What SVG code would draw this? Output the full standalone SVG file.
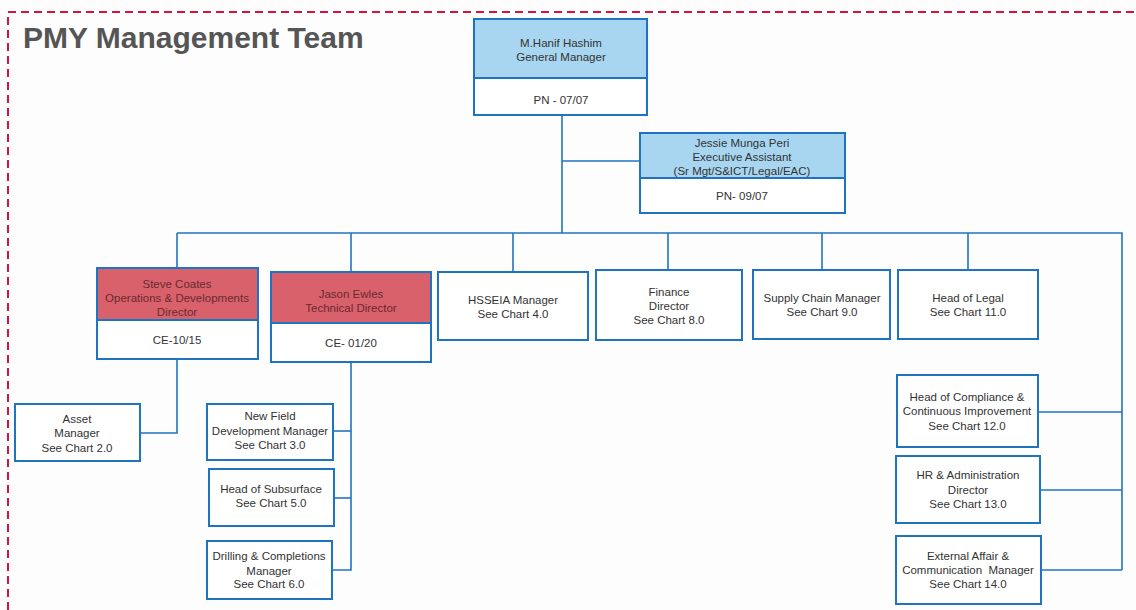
<svg xmlns="http://www.w3.org/2000/svg" width="1136" height="610" viewBox="0 0 1136 610">
<style>
.box{fill:#ffffff;stroke:#1f74c2;stroke-width:2}
.blue{fill:#a8d6f0;stroke:#1f74c2;stroke-width:2}
.red{fill:#d9616c;stroke:#1f74c2;stroke-width:2}
text{font-family:"Liberation Sans",Arial,sans-serif;font-size:11.5px;fill:#333;text-anchor:middle}
.red-t{fill:#6a2a2e}
.con{fill:none;stroke:#1f74c2;stroke-width:1.6}
</style>
<rect width="1136" height="610" fill="#fdfdfd"/>
<path d="M8,610 V12 H1136" fill="none" stroke="#d4163c" stroke-width="2" stroke-dasharray="8,5"/>
<text x="23" y="48" style="font-size:30px;font-weight:bold;fill:#555;text-anchor:start">PMY Management Team</text>
<g id="connectors">
<path class="con" d="M562,115 V233"/>
<path class="con" d="M562,161 H640"/>
<path class="con" d="M177,233 H1122 V570"/>
<path class="con" d="M177,233 V268"/>
<path class="con" d="M351,233 V272"/>
<path class="con" d="M513,233 V272"/>
<path class="con" d="M668,233 V270"/>
<path class="con" d="M822,233 V270"/>
<path class="con" d="M968,233 V270"/>
<path class="con" d="M177,359 V433 H140"/>
<path class="con" d="M351,362 V570 H332"/>
<path class="con" d="M333,431 H351"/>
<path class="con" d="M334,498 H351"/>
<path class="con" d="M1038,412 H1122"/>
<path class="con" d="M1040,490 H1122"/>
<path class="con" d="M1041,570 H1122"/>
</g>
<g id="gm">
<rect class="box" x="474" y="19" width="173" height="96"/>
<rect class="blue" x="474" y="19" width="173" height="59"/>
<text x="561" y="47">M.Hanif Hashim</text>
<text x="561" y="61">General Manager</text>
<text x="561" y="104">PN - 07/07</text>
</g>
<g id="ea">
<rect class="box" x="640" y="133" width="205" height="80"/>
<rect class="blue" x="640" y="133" width="205" height="45"/>
<text x="742" y="147">Jessie Munga Peri</text>
<text x="742" y="161">Executive Assistant</text>
<text x="742" y="175">(Sr Mgt/S&amp;ICT/Legal/EAC)</text>
<text x="742" y="200">PN- 09/07</text>
</g>
<g id="steve">
<rect class="box" x="97" y="268" width="161" height="91"/>
<rect class="red" x="97" y="268" width="161" height="52"/>
<text class="red-t" x="177" y="288">Steve Coates</text>
<text class="red-t" x="177" y="302">Operations &amp; Developments</text>
<text class="red-t" x="177" y="316">Director</text>
<text x="177" y="344">CE-10/15</text>
</g>
<g id="jason">
<rect class="box" x="271" y="272" width="160" height="90"/>
<rect class="red" x="271" y="272" width="160" height="51"/>
<text class="red-t" x="351" y="298">Jason Ewles</text>
<text class="red-t" x="351" y="312">Technical Director</text>
<text x="351" y="347">CE- 01/20</text>
</g>
<g id="hsseia">
<rect class="box" x="438" y="272" width="150" height="68"/>
<text x="513" y="304">HSSEIA Manager</text>
<text x="513" y="318">See Chart 4.0</text>
</g>
<g id="finance">
<rect class="box" x="596" y="270" width="146" height="70"/>
<text x="669" y="296">Finance</text>
<text x="669" y="310">Director</text>
<text x="669" y="324">See Chart 8.0</text>
</g>
<g id="supply">
<rect class="box" x="753" y="270" width="137" height="69"/>
<text x="822" y="302">Supply Chain Manager</text>
<text x="822" y="316">See Chart 9.0</text>
</g>
<g id="legal">
<rect class="box" x="898" y="270" width="140" height="69"/>
<text x="968" y="302">Head of Legal</text>
<text x="968" y="316">See Chart 11.0</text>
</g>
<g id="asset">
<rect class="box" x="15" y="404" width="125" height="57"/>
<text x="77" y="423">Asset</text>
<text x="77" y="437">Manager</text>
<text x="77" y="452">See Chart 2.0</text>
</g>
<g id="newfield">
<rect class="box" x="207" y="404" width="126" height="56"/>
<text x="270" y="420">New Field</text>
<text x="270" y="435">Development Manager</text>
<text x="270" y="449">See Chart 3.0</text>
</g>
<g id="subsurface">
<rect class="box" x="209" y="469" width="125" height="57"/>
<text x="271" y="493">Head of Subsurface</text>
<text x="271" y="507">See Chart 5.0</text>
</g>
<g id="drilling">
<rect class="box" x="207" y="541" width="125" height="58"/>
<text x="269" y="560">Drilling &amp; Completions</text>
<text x="269" y="575">Manager</text>
<text x="269" y="588">See Chart 6.0</text>
</g>
<g id="compliance">
<rect class="box" x="897" y="375" width="141" height="72"/>
<text x="967" y="401">Head of Compliance &amp;</text>
<text x="967" y="415">Continuous Improvement</text>
<text x="967" y="430">See Chart 12.0</text>
</g>
<g id="hr">
<rect class="box" x="896" y="456" width="144" height="67"/>
<text x="968" y="479">HR &amp; Administration</text>
<text x="968" y="494">Director</text>
<text x="968" y="508">See Chart 13.0</text>
</g>
<g id="external">
<rect class="box" x="896" y="536" width="145" height="68"/>
<text x="968" y="560">External Affair &amp;</text>
<text x="968" y="574" style="white-space:pre">Communication  Manager</text>
<text x="968" y="588">See Chart 14.0</text>
</g>
</svg>
